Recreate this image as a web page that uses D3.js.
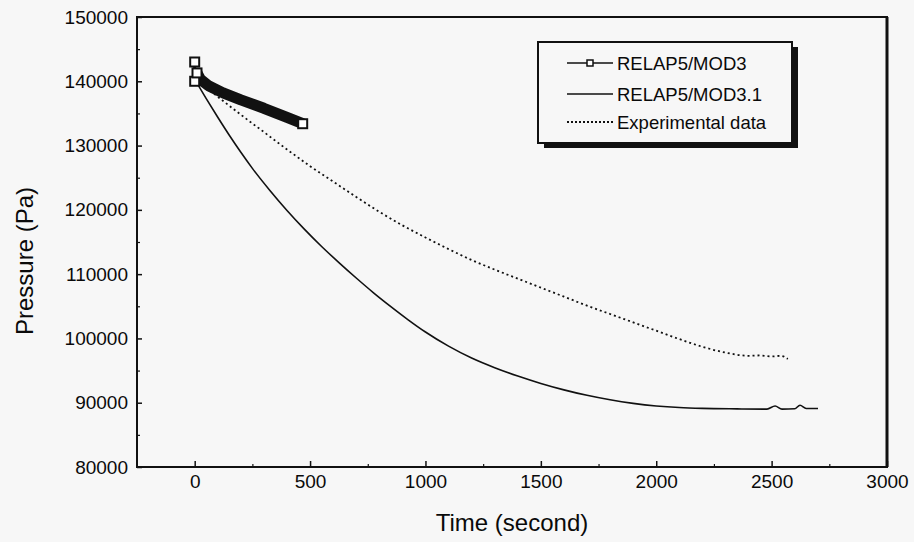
<!DOCTYPE html>
<html>
<head>
<meta charset="utf-8">
<script src="https://cdn.jsdelivr.net/npm/d3@7"></script>
<style>
  html, body { margin: 0; padding: 0; background: #f7f7f7; }
  svg { display: block; }
  text { font-family: "Liberation Sans", Arial, sans-serif; fill: #0a0a0a; }
</style>
</head>
<body>
<svg id="chart" width="914" height="542"></svg>
<script>
// ---- Data ----
const xTicks = [0, 500, 1000, 1500, 2000, 2500, 3000];
const yTicks = [80000, 90000, 100000, 110000, 120000, 130000, 140000, 150000];

// RELAP5/MOD3 : [time s, pressure Pa]
const mod3Time  = [0, 0, 10, 25, 60, 123, 200, 300, 400, 468];
const mod3Press = [143000, 140000, 141300, 140300, 139300, 138200, 137100, 135800, 134400, 133400];
const mod3MarkerIdx = [0, 1, 2, 9];

// RELAP5/MOD3.1
const mod31Time  = [0, 50, 100, 150, 200, 250, 325, 400, 475, 550, 625, 700, 775, 850, 925, 1000, 1100, 1200, 1300, 1400, 1500, 1600, 1700, 1800, 1900, 2000, 2100, 2200, 2350, 2480, 2515, 2545, 2600, 2623, 2650, 2701];
const mod31Press = [140300, 137300, 134400, 131600, 128950, 126450, 123050, 119900, 117000, 114300, 111800, 109400, 107100, 104950, 102900, 101000, 98800, 96950, 95450, 94150, 93000, 92000, 91150, 90450, 89900, 89500, 89250, 89120, 89040, 89000, 89500, 89000, 89050, 89600, 89100, 89100];

// Experimental data
const expTime  = [0, 100, 200, 300, 400, 500, 600, 700, 800, 900, 1000, 1100, 1200, 1300, 1400, 1500, 1600, 1700, 1800, 1900, 2000, 2100, 2200, 2300, 2400, 2450, 2500, 2540, 2570];
const expPress = [140500, 137600, 134800, 132100, 129400, 126800, 124400, 122000, 119700, 117600, 115700, 113900, 112200, 110700, 109300, 107900, 106500, 105100, 103800, 102500, 101200, 99900, 98700, 97800, 97300, 97350, 97200, 97300, 96800];

const legendLabels = ["RELAP5/MOD3", "RELAP5/MOD3.1", "Experimental data"];

// ---- Layout ----
const svg = d3.select("#chart");
const L = 137, R = 887, T = 17, B = 467;

const x = d3.scaleLinear().domain([-250, 3000]).range([L, R]);
const y = d3.scaleLinear().domain([80000, 150000]).range([B, T]);

const xMinor = d3.range(-250, 3001, 250).filter(v => v % 500 !== 0 && v > -250 && v < 3000);
const yMinor = d3.range(85000, 150000, 10000);

const fmt = d3.format("d");

// Y axis
const gy = svg.append("g").attr("transform", `translate(${L},0)`)
  .call(d3.axisLeft(y).tickValues(yTicks).tickSize(-5).tickPadding(9).tickFormat(fmt));
gy.select(".domain").remove();
gy.selectAll(".tick line").attr("stroke", "#111").attr("stroke-width", 1.5);
gy.selectAll(".tick text").attr("font-size", 19).attr("font-family", "Liberation Sans, Arial, sans-serif").attr("fill", "#0a0a0a");

const gy2 = svg.append("g").attr("transform", `translate(${L},0)`)
  .call(d3.axisLeft(y).tickValues(yMinor).tickSize(-3).tickFormat(""));
gy2.select(".domain").remove();
gy2.selectAll(".tick line").attr("stroke", "#111").attr("stroke-width", 1.2);

// X axis
const gx = svg.append("g").attr("transform", `translate(0,${B})`)
  .call(d3.axisBottom(x).tickValues(xTicks).tickSize(-6).tickPadding(8).tickFormat(fmt));
gx.select(".domain").remove();
gx.selectAll(".tick line").attr("stroke", "#111").attr("stroke-width", 1.5);
gx.selectAll(".tick text").attr("font-size", 19).attr("font-family", "Liberation Sans, Arial, sans-serif").attr("fill", "#0a0a0a");

const gx2 = svg.append("g").attr("transform", `translate(0,${B})`)
  .call(d3.axisBottom(x).tickValues(xMinor).tickSize(-3).tickFormat(""));
gx2.select(".domain").remove();
gx2.selectAll(".tick line").attr("stroke", "#111").attr("stroke-width", 1.2);

// Frame
svg.append("rect").attr("x", L).attr("y", T).attr("width", R - L).attr("height", B - T)
  .attr("fill", "none").attr("stroke", "#111").attr("stroke-width", 2);
svg.append("line").attr("x1", R).attr("x2", R).attr("y1", T).attr("y2", B)
  .attr("stroke", "#111").attr("stroke-width", 3);

// Axis titles
svg.append("text").attr("x", (L + R) / 2).attr("y", 531)
  .attr("text-anchor", "middle").attr("font-size", 24).text("Time (second)");
svg.append("text").attr("transform", "translate(33,261) rotate(-90)")
  .attr("text-anchor", "middle").attr("font-size", 24).text("Pressure (Pa)");

// Lines
const line = d3.line().x(d => x(d[0])).y(d => y(d[1]));
const smooth = d3.line().x(d => x(d[0])).y(d => y(d[1])).curve(d3.curveMonotoneX);

const mod31 = mod31Time.map((t, i) => [t, mod31Press[i]]);
const exp = expTime.map((t, i) => [t, expPress[i]]);
const mod3 = mod3Time.map((t, i) => [t, mod3Press[i]]);

svg.append("path").datum(exp).attr("d", smooth)
  .attr("fill", "none").attr("stroke", "#111").attr("stroke-width", 1.8)
  .attr("stroke-dasharray", "2,3");

svg.append("path").datum(mod31).attr("d", smooth)
  .attr("fill", "none").attr("stroke", "#111").attr("stroke-width", 1.6);

svg.append("path").datum(mod3.slice(2)).attr("d", line)
  .attr("fill", "none").attr("stroke", "#111").attr("stroke-width", 11)
  .attr("stroke-linejoin", "round");
svg.append("path").datum(mod3.slice(0, 3)).attr("d", line)
  .attr("fill", "none").attr("stroke", "#111").attr("stroke-width", 3);

svg.selectAll("rect.m3").data(mod3MarkerIdx.map(i => mod3[i])).enter()
  .append("rect").attr("class", "m3")
  .attr("x", d => x(d[0]) - 4.5).attr("y", d => y(d[1]) - 4.5)
  .attr("width", 9).attr("height", 9)
  .attr("fill", "#fff").attr("stroke", "#111").attr("stroke-width", 2);

// Legend
const lg = svg.append("g");
const lx = 538, ly = 42, lw = 254, lh = 101;
lg.append("rect").attr("x", lx + 6).attr("y", ly + 5).attr("width", lw).attr("height", lh).attr("fill", "#111");
lg.append("rect").attr("x", lx).attr("y", ly).attr("width", lw).attr("height", lh)
  .attr("fill", "#f7f7f7").attr("stroke", "#111").attr("stroke-width", 2);

const rowsY = [63, 94, 122];
const styles = [null, null, "2,2"];
legendLabels.forEach((lab, i) => {
  lg.append("line").attr("x1", 567).attr("x2", 613).attr("y1", rowsY[i]).attr("y2", rowsY[i])
    .attr("stroke", "#111").attr("stroke-width", i === 2 ? 1.8 : 1.5)
    .attr("stroke-dasharray", styles[i]);
  if (i === 0) {
    lg.append("rect").attr("x", 587).attr("y", rowsY[i] - 3).attr("width", 6).attr("height", 6)
      .attr("fill", "#fff").attr("stroke", "#111").attr("stroke-width", 1.5);
  }
  lg.append("text").attr("x", 617).attr("y", rowsY[i] + 6.5).attr("font-size", 18.5).text(lab);
});
</script>
</body>
</html>
